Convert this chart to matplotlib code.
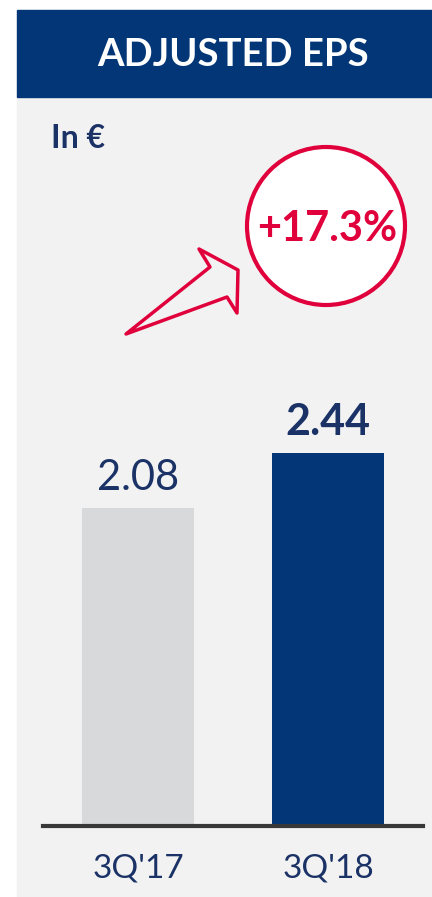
import numpy as np
import matplotlib
matplotlib.use('Agg')
import matplotlib.pyplot as plt
from matplotlib.patches import Rectangle, Circle, Polygon

# data
categories = ["3Q'17", "3Q'18"]
eps_values = [2.08, 2.44]
value_labels = ['2.08', '2.44']
growth_label = '+17.3%'
title = 'ADJUSTED EPS'
unit_label = 'In €'

navy = '#023677'
text_navy = '#1b3266'
red = '#e0003c'
grey_bar = '#d8d9db'
panel_bg = '#f2f2f2'

plt.rcParams['font.family'] = ['Lato', 'DejaVu Sans']

W, H = 432, 897
fig = plt.figure(figsize=(W / 100, H / 100), dpi=100)
fig.patch.set_facecolor('white')

# overlay in pixel coordinates (y downwards) for panel decorations
deco = fig.add_axes([0, 0, 1, 1])
deco.set_xlim(0, W)
deco.set_ylim(H, 0)
deco.axis('off')
deco.add_patch(Rectangle((17, 97), W - 17, H - 97, color=panel_bg, zorder=0))
deco.add_patch(Rectangle((17, 10), W - 17, 87, color=navy, zorder=1))
deco.text(233, 55, title, color='white', fontsize=27.5, fontweight='bold',
          ha='center', va='center')
deco.text(51, 138, unit_label, color=text_navy, fontsize=23, fontweight='bold',
          ha='left', va='center')

# growth badge
deco.add_patch(Circle((326, 226), 79, facecolor='white', edgecolor=red,
                      linewidth=3, zorder=2))
deco.text(327, 229, growth_label, color=red, fontsize=30, fontweight='bold',
          ha='center', va='center', zorder=3)
arrow_pts = [(126, 334), (210, 267), (199, 249), (238, 270), (237, 313), (227, 297)]
deco.add_patch(Polygon(arrow_pts, closed=True, fill=False, edgecolor=red,
                       linewidth=2.5, joinstyle='round', zorder=2))

# bar chart axes: baseline at y=826px, 152.9 px per euro
px_per_unit = 152.9
y_top = 3.0
ax_bottom = (H - 826) / H
ax_height = y_top * px_per_unit / H
ax = fig.add_axes([43 / W, ax_bottom, 380 / W, ax_height])
ax.patch.set_alpha(0)
x = np.arange(len(categories))
bars = ax.bar(x, eps_values, width=112 / 190, color=[grey_bar, navy], zorder=2)
ax.set_xlim(-0.5, 1.5)
ax.set_ylim(0, y_top)
ax.axhline(0, color='#383838', linewidth=3, zorder=3, clip_on=False)
for s in ax.spines.values():
    s.set_visible(False)
ax.set_yticks([])
ax.set_xticks(x)
ax.set_xticklabels(categories, color=text_navy, fontsize=24)
ax.tick_params(axis='x', length=0, pad=20)

for i, (bar, lab) in enumerate(zip(bars, value_labels)):
    ax.annotate(lab, (bar.get_x() + bar.get_width() / 2, bar.get_height()),
                xytext=(0, 8), textcoords='offset points', ha='center', va='bottom',
                color=text_navy, fontsize=30 if i == 0 else 31,
                fontweight='bold' if i == 1 else 'normal')

fig.savefig('out.png', dpi=100)
